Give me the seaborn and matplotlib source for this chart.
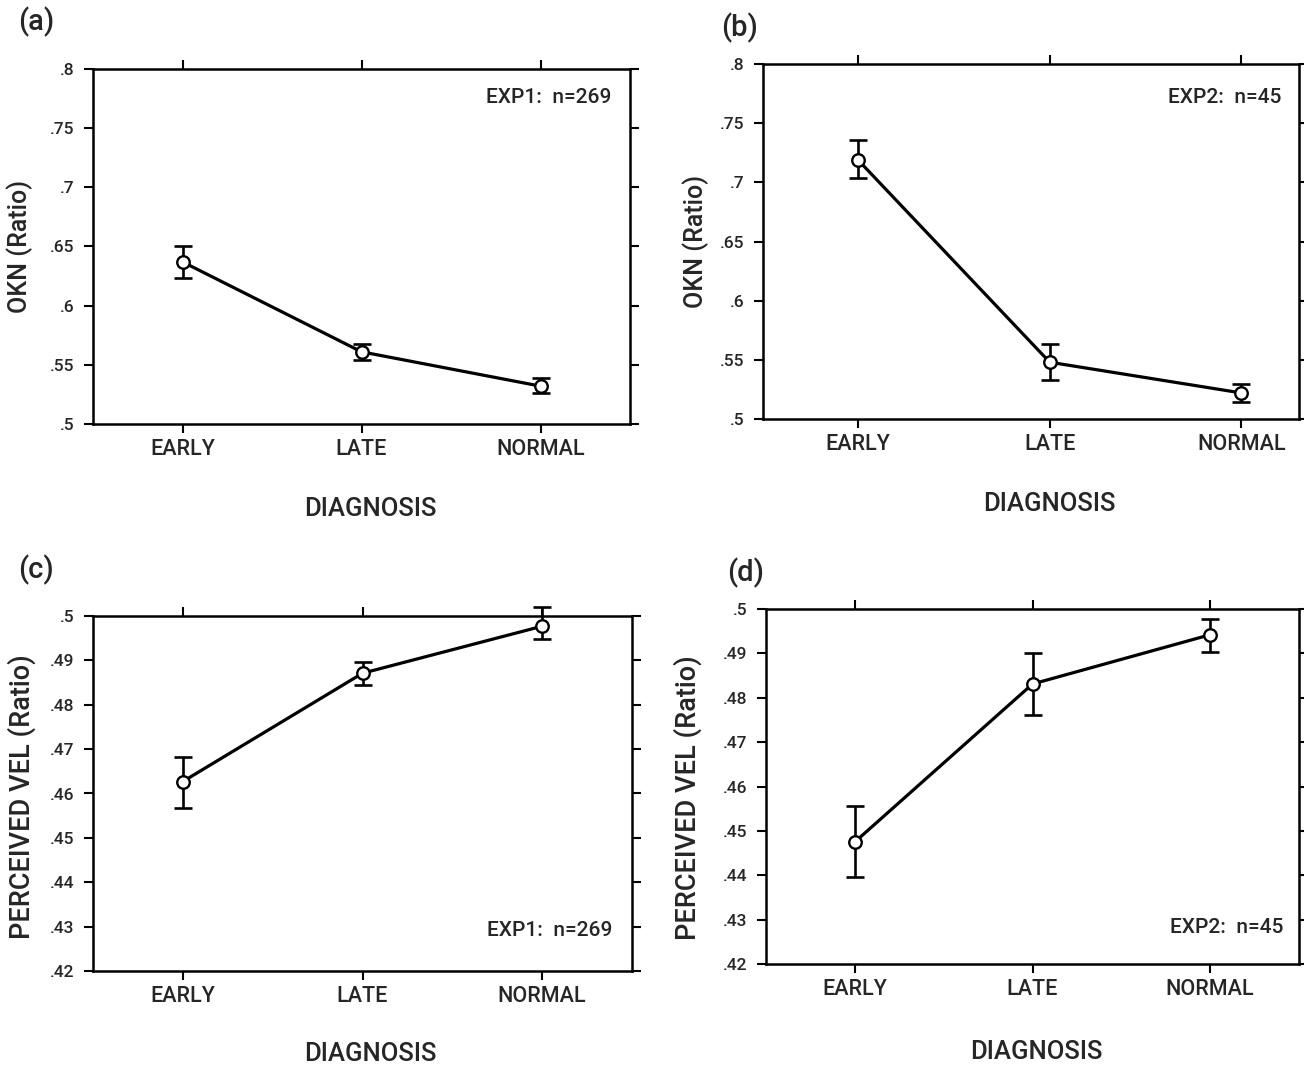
import numpy as np
import matplotlib
matplotlib.use("Agg")
import matplotlib.pyplot as plt
from matplotlib.ticker import FuncFormatter, MultipleLocator
import seaborn as sns

# --- data: means and error-bar ends ---
categories = ["EARLY", "LATE", "NORMAL"]

okn_exp1_mean = [0.637, 0.561, 0.532]
okn_exp1_lo = [0.623, 0.554, 0.526]
okn_exp1_hi = [0.650, 0.568, 0.539]

okn_exp2_mean = [0.719, 0.548, 0.522]
okn_exp2_lo = [0.704, 0.533, 0.514]
okn_exp2_hi = [0.736, 0.563, 0.530]

vel_exp1_mean = [0.4627, 0.4871, 0.4977]
vel_exp1_lo = [0.4568, 0.4844, 0.4949]
vel_exp1_hi = [0.4683, 0.4897, 0.5021]

vel_exp2_mean = [0.4475, 0.4831, 0.4942]
vel_exp2_lo = [0.4395, 0.4761, 0.4903]
vel_exp2_hi = [0.4557, 0.4901, 0.4978]

sns.set_style("ticks")
plt.rcParams["font.family"] = ["Roboto", "Liberation Sans", "DejaVu Sans"]
plt.rcParams["font.weight"] = "medium"
plt.rcParams["axes.labelweight"] = "medium"

W, H = 1304, 1065
fig = plt.figure(figsize=(W / 100, H / 100), dpi=100)


def px_axes(l, r, t, b):
    return fig.add_axes([l / W, (H - b) / H, (r - l) / W, (b - t) / H])


def no_zero(v, pos):
    s = f"{v:.2f}".rstrip("0").rstrip(".")
    return s[1:] if s.startswith("0") else s


panels = [
    dict(box=(93, 630, 69, 424), mean=okn_exp1_mean, lo=okn_exp1_lo, hi=okn_exp1_hi,
         ylim=(0.5, 0.8), step=0.05, xlim=(-0.5, 2.5), ylabel="OKN (Ratio)", ysize=18,
         note="EXP1:  n=269", note_xy=(0.965, 0.921), letter="(a)", letter_xy=(18, 22),
         xlab_xy=(0.516, -0.205), ylab_xy=(-0.112, 0.5)),
    dict(box=(763, 1299, 64, 419), mean=okn_exp2_mean, lo=okn_exp2_lo, hi=okn_exp2_hi,
         ylim=(0.5, 0.8), step=0.05, xlim=(-0.495, 2.3), ylabel="OKN (Ratio)", ysize=18,
         note="EXP2:  n=45", note_xy=(0.968, 0.907), letter="(b)", letter_xy=(721, 28),
         xlab_xy=(0.535, -0.205), ylab_xy=(-0.101, 0.5)),
    dict(box=(93, 632, 616, 971), mean=vel_exp1_mean, lo=vel_exp1_lo, hi=vel_exp1_hi,
         ylim=(0.42, 0.5), step=0.01, xlim=(-0.5, 2.5), ylabel="PERCEIVED VEL (Ratio)", ysize=19.5,
         note="EXP1:  n=269", note_xy=(0.963, 0.113), letter="(c)", letter_xy=(18, 570),
         xlab_xy=(0.514, -0.200), ylab_xy=(-0.106, 0.49)),
    dict(box=(766, 1299, 609, 964), mean=vel_exp2_mean, lo=vel_exp2_lo, hi=vel_exp2_hi,
         ylim=(0.42, 0.5), step=0.01, xlim=(-0.5, 2.5), ylabel="PERCEIVED VEL (Ratio)", ysize=19.5,
         note="EXP2:  n=45", note_xy=(0.970, 0.104), letter="(d)", letter_xy=(727, 573),
         xlab_xy=(0.508, -0.214), ylab_xy=(-0.120, 0.47)),
]

for p in panels:
    ax = px_axes(*p["box"])
    mean = np.array(p["mean"])
    lo = np.array(p["lo"])
    hi = np.array(p["hi"])

    sns.lineplot(x=categories, y=mean, ax=ax, sort=False, color="black", lw=2.3,
                 marker="o", ms=9, mfc="white", mec="black", mew=1.7, zorder=4)
    ax.errorbar(categories, mean, yerr=[mean - lo, hi - mean], fmt="none",
                ecolor="black", elinewidth=1.9, capsize=6.3, capthick=1.9,
                zorder=3, clip_on=False)

    ax.set_xlim(*p["xlim"])
    ax.set_ylim(*p["ylim"])
    ax.yaxis.set_major_locator(MultipleLocator(p["step"]))
    ax.yaxis.set_major_formatter(FuncFormatter(no_zero))

    for s in ax.spines.values():
        s.set_visible(True)
        s.set_linewidth(1.8)
        s.set_color("black")
    ax.tick_params(axis="both", which="both", direction="out", length=6.3, width=1.5,
                   color="black", top=True, right=True, labeltop=False, labelright=False)
    ax.tick_params(axis="y", labelsize=12.5, pad=7)
    ax.tick_params(axis="x", labelsize=15.5, pad=4.5)

    ax.set_xlabel("DIAGNOSIS", fontsize=18.5)
    ax.xaxis.set_label_coords(*p["xlab_xy"])
    ax.set_ylabel(p["ylabel"], fontsize=p["ysize"])
    ax.yaxis.set_label_coords(*p["ylab_xy"])

    ax.text(p["note_xy"][0], p["note_xy"][1], p["note"], transform=ax.transAxes,
            ha="right", va="center", fontsize=15)
    fig.text(p["letter_xy"][0] / W, 1 - p["letter_xy"][1] / H, p["letter"],
             ha="left", va="center", fontsize=21)

fig.savefig("out.png", dpi=100, facecolor="white")
